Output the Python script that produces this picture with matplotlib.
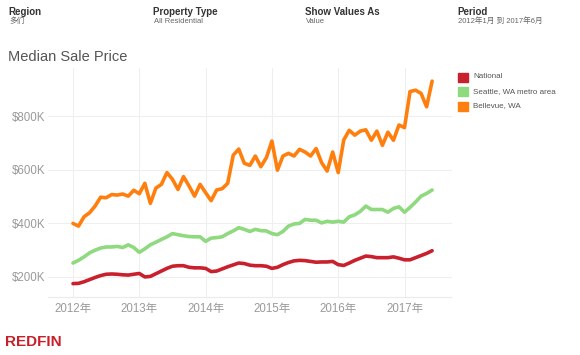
import matplotlib
matplotlib.use("Agg")
import matplotlib.pyplot as plt
import numpy as np

# Monthly data Jan 2012 - Jun 2017 (thousands of USD)
national = [175, 176, 182, 190, 198, 205, 210, 211, 210, 208, 207, 210,
            213, 200, 202, 212, 222, 232, 240, 242, 242, 236, 234, 234,
            232, 220, 222, 230, 238, 245, 252, 250, 244, 242, 242, 240,
            232, 236, 246, 254, 260, 262, 261, 258, 255, 256, 256, 258,
            246, 243, 252, 262, 270, 278, 276, 272, 272, 272, 275, 270,
            264, 264, 272, 280, 288, 298]
seattle = [252, 262, 275, 290, 300, 308, 312, 312, 314, 310, 320, 310,
           292, 305, 320, 330, 340, 350, 362, 358, 354, 351, 350, 350,
           333, 345, 347, 350, 362, 372, 384, 378, 370, 378, 373, 372,
           362, 358, 370, 390, 398, 400, 415, 412, 412, 402, 408, 405,
           408, 405, 425, 432, 445, 465, 452, 452, 452, 442, 456, 462,
           442, 460, 480, 502, 512, 525]
bellevue = [400, 390, 425, 440, 465, 498, 496, 508, 506, 510, 502, 524,
            511, 550, 475, 532, 546, 590, 565, 527, 575, 540, 502, 546,
            515, 485, 525, 530, 550, 655, 678, 625, 617, 652, 612, 646,
            708, 599, 652, 662, 652, 677, 667, 652, 680, 627, 596, 667,
            590, 712, 748, 730, 745, 750, 711, 745, 692, 741, 711, 768,
            758, 893, 898, 886, 836, 932]
series_names = ["National", "Seattle, WA metro area", "Bellevue, WA"]
series_colors = ["#c9202e", "#8fd97f", "#ff7f0e"]
year_ticks = [2012, 2013, 2014, 2015, 2016, 2017]
year_labels = ["2012年", "2013年", "2014年", "2015年", "2016年", "2017年"]
y_ticks = [200, 400, 600, 800]
y_labels = ["$200K", "$400K", "$600K", "$800K"]

fam = ["Liberation Sans", "Noto Sans CJK SC", "DejaVu Sans"]
plt.rcParams["font.family"] = fam

fig = plt.figure(figsize=(5.8, 3.55), dpi=100)
ax = fig.add_axes([48/580, 1-297/355, (452-48)/580, (297-68)/355])

x = 2012 + np.arange(len(national)) / 12.0
for vals, c in zip([national, seattle, bellevue], series_colors):
    ax.plot(x, vals, color=c, lw=2.6, solid_joinstyle="round", solid_capstyle="round")

ax.set_xlim(2012 - 25/66.3, 2012 + 379/66.3)
ax.set_ylim(125, 981)
ax.set_xticks(year_ticks)
ax.set_xticklabels(year_labels)
ax.set_yticks(y_ticks)
ax.set_yticklabels(y_labels)
ax.tick_params(axis="both", length=0, labelsize=8.3, labelcolor="#9a9a9a", pad=4)
ax.tick_params(axis="y", pad=2)
ax.grid(True, color="#efefef", lw=0.8)
ax.set_axisbelow(True)
for s in ["top", "right", "left"]:
    ax.spines[s].set_visible(False)
ax.spines["bottom"].set_color("#ebebeb")
ax.spines["bottom"].set_linestyle((0, (1, 1)))
ax.spines["bottom"].set_linewidth(0.8)

# Header
hdr = [(8, "Region", "多们"), (153, "Property Type", "All Residential"),
       (305, "Show Values As", "Value"), (457, "Period", "2012年1月 到 2017年6月")]
for px, t1, t2 in hdr:
    fig.text(px/580, 1-12/355, t1, fontsize=7, fontweight="bold", color="#333333",
             va="center", ha="left")
    fig.text(px/580 + 0.002, 1-21.5/355, t2, fontsize=5.5, color="#666666",
             va="center", ha="left")

fig.text(8/580, 1-57/355, "Median Sale Price", fontsize=10.5, color="#555555",
         va="center", ha="left")

# Legend
for i, (n, c) in enumerate(zip(series_names, series_colors)):
    yc = 77 + i*14.5
    fig.patches.append(plt.Rectangle((458/580, 1-(yc+4.5)/355), 10/580, 9/355,
                                     transform=fig.transFigure, color=c))
    fig.text(473/580, 1-yc/355, n, fontsize=5.8, color="#555555", va="center", ha="left")

fig.text(5/580, 1-342/355, "REDFIN", fontsize=11, fontweight="bold", color="#c8202a",
         va="center", ha="left")

fig.savefig("out.png", dpi=100)
